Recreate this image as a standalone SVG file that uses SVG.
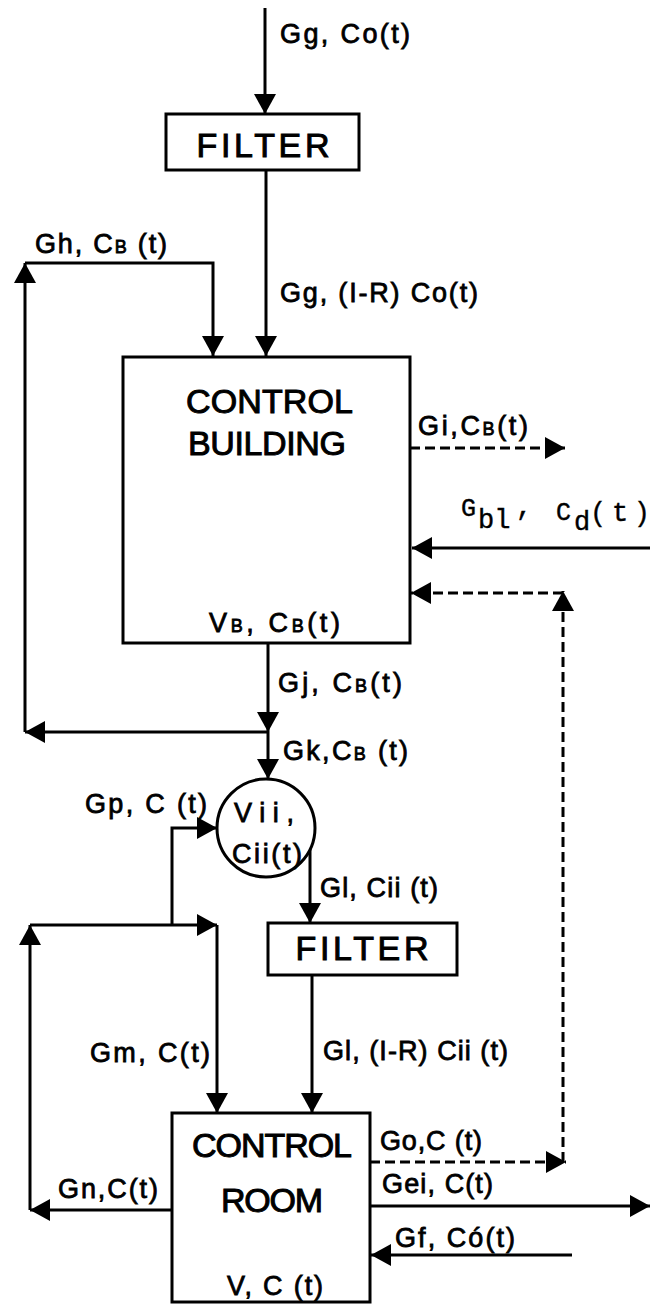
<svg xmlns="http://www.w3.org/2000/svg" width="650" height="1304" viewBox="0 0 650 1304">
<style>
.ln{fill:none;stroke:#000;stroke-width:3}
.ds{fill:none;stroke:#000;stroke-width:3;stroke-dasharray:10 5}
.box{fill:#fff;stroke:#000;stroke-width:3}
.lb{font-family:"Liberation Sans",Arial,sans-serif;font-size:27px;fill:#000;stroke:#000;stroke-width:0.8}
.big{font-family:"Liberation Sans",Arial,sans-serif;font-size:34px;fill:#000;stroke:#000;stroke-width:1}
.sb{font-size:18px}
.mono{font-family:"Liberation Mono","Courier New",monospace;font-size:27px;fill:#000;stroke:#000;stroke-width:0.4}
.ms{font-size:25px}
</style>
<defs>
<marker id="ah" viewBox="0 0 20 22" refX="20" refY="11" markerWidth="20" markerHeight="22" markerUnits="userSpaceOnUse" orient="auto">
<path d="M0,0 L20,11 L0,22 z" fill="#000"/>
</marker>
</defs>
<rect width="650" height="1304" fill="#fff"/>

<g id="connectors">
<path class="ln" d="M265,8 V114" marker-end="url(#ah)"/>
<path class="ln" d="M266,170 V356" marker-end="url(#ah)"/>
<path class="ln" d="M25,263 H213 V356" marker-end="url(#ah)"/>
<path class="ln" d="M268,643 V732" marker-end="url(#ah)"/>
<path class="ln" d="M268,732 H25" marker-end="url(#ah)"/>
<path class="ln" d="M25,732 V263" marker-end="url(#ah)"/>
<path class="ln" d="M268,732 V779" marker-end="url(#ah)"/>
<path class="ds" d="M410,448 H565" marker-end="url(#ah)"/>
<path class="ln" d="M650,548 H412" marker-end="url(#ah)"/>
<path class="ds" d="M563,593 H411" marker-end="url(#ah)"/>
<path class="ds" d="M563,1162 V591" marker-end="url(#ah)"/>
<path class="ln" d="M310,848 V923" marker-end="url(#ah)"/>
<path class="ln" d="M312,975 V1113" marker-end="url(#ah)"/>
<path class="ln" d="M172,925 V828 H217" marker-end="url(#ah)"/>
<path class="ln" d="M30,925 H217" marker-end="url(#ah)"/>
<path class="ln" d="M217,925 V1113" marker-end="url(#ah)"/>
<path class="ln" d="M30,1210 V925" marker-end="url(#ah)"/>
<path class="ln" d="M172,1210 H30" marker-end="url(#ah)"/>
<path class="ds" d="M370,1162 H566" marker-end="url(#ah)"/>
<path class="ln" d="M370,1206 H650" marker-end="url(#ah)"/>
<path class="ln" d="M572,1255 H371" marker-end="url(#ah)"/>
</g>

<g id="filter1">
<rect class="box" x="166" y="114" width="193" height="56"/>
<text class="big" x="263" y="157" text-anchor="middle" textLength="133" lengthAdjust="spacing">FILTER</text>
</g>

<g id="control-building">
<rect class="box" x="123" y="357" width="287" height="286"/>
<text class="big" x="186" y="413" textLength="167" lengthAdjust="spacing">CONTROL</text>
<text class="big" x="188" y="455" textLength="158" lengthAdjust="spacing">BUILDING</text>
<text class="lb" x="209" y="632" textLength="131" lengthAdjust="spacing">V<tspan class="sb">B</tspan>, C<tspan class="sb">B</tspan>(t)</text>
</g>

<g id="mixer">
<circle cx="266" cy="828" r="49" fill="#fff" stroke="#000" stroke-width="3"/>
<text class="lb" x="234" y="822" textLength="60" lengthAdjust="spacing">Vii,</text>
<text class="lb" x="232" y="863" textLength="70" lengthAdjust="spacing">Cii(t)</text>
</g>

<g id="filter2">
<rect class="box" x="268" y="923" width="189" height="52"/>
<text class="big" x="362" y="960" text-anchor="middle" textLength="133" lengthAdjust="spacing">FILTER</text>
</g>

<g id="control-room">
<rect class="box" x="172" y="1113" width="198" height="189"/>
<text class="big" x="192" y="1157" font-size="32" textLength="160" lengthAdjust="spacing">CONTROL</text>
<text class="big" x="221" y="1212" font-size="32" textLength="102" lengthAdjust="spacing">ROOM</text>
<text class="lb" x="227" y="1295" textLength="96" lengthAdjust="spacing">V, C (t)</text>
</g>

<g id="labels">
<text class="lb" x="280" y="43" textLength="130" lengthAdjust="spacing">Gg, Co(t)</text>
<text class="lb" x="35" y="253" textLength="132" lengthAdjust="spacing">Gh, C<tspan class="sb">B</tspan> (t)</text>
<text class="lb" x="280" y="302" textLength="198" lengthAdjust="spacing">Gg, (I-R) Co(t)</text>
<text class="lb" x="418" y="435" textLength="110" lengthAdjust="spacing">Gi,C<tspan class="sb">B</tspan>(t)</text>
<text class="mono ms" x="461" y="516">G</text>
<text class="mono" x="478" y="528">bl</text>
<text class="mono" x="516" y="515">,</text>
<text class="mono ms" x="556" y="520">C</text>
<text class="mono" x="574" y="530">d</text>
<text class="mono" x="590" y="521" textLength="60" lengthAdjust="spacing">(t)</text>
<text class="lb" x="278" y="692" textLength="124" lengthAdjust="spacing">Gj, C<tspan class="sb">B</tspan>(t)</text>
<text class="lb" x="283" y="760" textLength="125" lengthAdjust="spacing">Gk,C<tspan class="sb">B</tspan> (t)</text>
<text class="lb" x="85" y="813" textLength="122" lengthAdjust="spacing">Gp, C (t)</text>
<text class="lb" x="320" y="897" textLength="118" lengthAdjust="spacing">Gl, Cii (t)</text>
<text class="lb" x="90" y="1062" textLength="120" lengthAdjust="spacing">Gm, C(t)</text>
<text class="lb" x="323" y="1060" textLength="185" lengthAdjust="spacing">Gl, (I-R) Cii (t)</text>
<text class="lb" x="58" y="1198" textLength="100" lengthAdjust="spacing">Gn,C(t)</text>
<text class="lb" x="380" y="1150" textLength="102" lengthAdjust="spacing">Go,C (t)</text>
<text class="lb" x="382" y="1193" textLength="111" lengthAdjust="spacing">Gei, C(t)</text>
<text class="lb" x="395" y="1247" textLength="120" lengthAdjust="spacing">Gf, Có(t)</text>
</g>
</svg>
